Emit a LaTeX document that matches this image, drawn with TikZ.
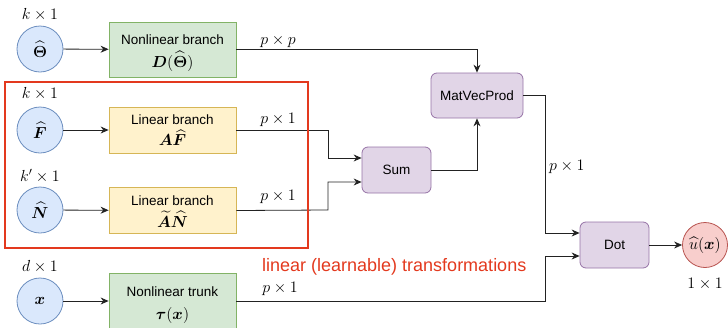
\RequirePackage{fix-cm}
\documentclass[tikz,border=0pt]{standalone}
\usepackage{amsmath,bm}
\usepackage[no-math]{fontspec}
\newfontfamily\arialf{Liberation Sans}
\usetikzlibrary{arrows.meta,calc}

\definecolor{inFill}{HTML}{DAE8FC}
\definecolor{inLine}{HTML}{6C8EBF}
\definecolor{nlFill}{HTML}{D5E8D4}
\definecolor{nlLine}{HTML}{82B366}
\definecolor{linFill}{HTML}{FFF2CC}
\definecolor{linLine}{HTML}{D6B656}
\definecolor{opFill}{HTML}{E1D5E7}
\definecolor{opLine}{HTML}{9673A6}
\definecolor{outFill}{HTML}{F8CECC}
\definecolor{outLine}{HTML}{B85450}
\definecolor{hiRed}{HTML}{E3391E}
\definecolor{wireGray}{HTML}{222222}

\tikzset{
  invar/.style={circle, draw=inLine, fill=inFill, line width=0.8pt,
    minimum size=46pt, inner sep=0pt, font=\fontsize{16}{19}\selectfont},
  outvar/.style={circle, draw=outLine, fill=outFill, line width=0.8pt,
    minimum size=45pt, inner sep=0pt, font=\fontsize{16}{19}\selectfont},
  nlbox/.style={draw=nlLine, fill=nlFill, line width=0.8pt,
    minimum width=127pt, minimum height=55pt, inner sep=0pt, align=center,
    font=\arialf\fontsize{13.5}{23}\selectfont},
  linbox/.style={draw=linLine, fill=linFill, line width=0.8pt,
    minimum width=127pt, minimum height=46pt, inner sep=0pt, align=center,
    font=\arialf\fontsize{13.5}{21.5}\selectfont},
  opbox/.style={draw=opLine, fill=opFill, line width=0.8pt, rounded corners=6pt,
    minimum height=46pt, inner sep=0pt, font=\arialf\fontsize{13.5}{16}\selectfont},
  dimlab/.style={font=\fontsize{16}{19}\selectfont, inner sep=0pt},
  arr/.style={draw=wireGray, line width=0.8pt, -{Stealth[length=8pt,width=7pt]}},
}

% math line inside a box, set at the size of the dimension labels
\newcommand{\mth}[1]{{\fontsize{16}{19}\selectfont$#1$}}
% strut that lowers the text block inside the taller boxes
\newcommand{\topstrut}{\rule{0pt}{17pt}}

\begin{document}
\begin{tikzpicture}[x=1pt,y=-1pt]
\useasboundingbox (0,0) rectangle (728,327);

% inputs
\node[invar] (theta) at (40,49) {$\widehat{\bm{\Theta}}$};
\node[invar] (fin) at (40,130) {$\widehat{\bm{F}}$};
\node[invar] (nin) at (40,210) {$\widehat{\bm{N}}$};
\node[invar] (xin) at (40,301) {$\bm{x}$};

\node[dimlab] (dtheta) at (40,15) {$k\times 1$};
\node[dimlab] (dfin) at (40,94) {$k\times 1$};
\node[dimlab] (dnin) at (40,176) {$k'\times 1$};
\node[dimlab] (dxin) at (40,267) {$d\times 1$};

% branches and trunk
\node[nlbox] (nlb) at (172.5,49.5) {\topstrut Nonlinear branch\\ \mth{\bm{D}(\widehat{\bm{\Theta}})}};
\node[linbox] (lbf) at (172.5,130) {Linear branch\\ \mth{\bm{A}\widehat{\bm{F}}}};
\node[linbox] (lbn) at (172.5,210.5) {\rule{0pt}{12pt}Linear branch\\ \mth{\widetilde{\bm{A}}\widehat{\bm{N}}}};
\node[nlbox] (trk) at (172.5,301) {\topstrut Nonlinear trunk\\ \mth{\bm{\tau}(\bm{x})}};

% operations
\node[opbox, minimum width=69pt] (sum) at (396.5,170) {Sum};
\node[opbox, minimum width=92pt, minimum height=45pt] (mvp) at (477,95.5) {MatVecProd};
\node[opbox, minimum width=69pt] (dot) at (614.5,245) {Dot};
\node[outvar] (uout) at (705,245) {$\widehat{u}(\bm{x})$};
\node[dimlab] (duout) at (705,284) {$1\times 1$};

% input arrows
\draw[arr] (theta) -- (nlb);
\draw[arr] (fin) -- (lbf);
\draw[arr] (nin) -- (lbn);
\draw[arr] (xin) -- (trk);

% branch outputs
\draw[arr] (nlb.east) -| (mvp.north);
\node[dimlab] (lpp) at (278,41) {$p\times p$};

\coordinate (jf) at (328,130);
\coordinate (jn) at (328,210);
\draw[arr] (lbf.east) -- (jf) |- ([yshift=12pt]sum.west);
\draw[arr] (lbn.east) -- (jn) |- ([yshift=-12pt]sum.west);
\node[dimlab] (lpf) at (278,120) {$p\times 1$};
\node[dimlab] (lpn) at (278,197) {$p\times 1$};

\draw[arr] (sum.east) -| (mvp.south);

\coordinate (jm) at (545.5,95.5);
\coordinate (jt) at (545.5,301.5);
\draw[arr] (mvp.east) -- (jm) |- ([yshift=12pt]dot.west);
\node[dimlab, anchor=west] (lpm) at (549,167) {$p\times 1$};

\draw[arr] (trk.east |- jt) -- (jt) |- ([yshift=-11pt]dot.west);
\node[dimlab] (lpt) at (280,289) {$p\times 1$};

\draw[arr] (dot) -- (uout);

% grouping frame around the linear branches
\draw[hiRed, line width=2.6pt] (5,82) rectangle (308,248);
\node[font=\arialf\fontsize{18}{21}\selectfont, text=hiRed, anchor=west, inner sep=0pt]
  (note) at (262,267) {linear (learnable) transformations};
\end{tikzpicture}
\end{document}
